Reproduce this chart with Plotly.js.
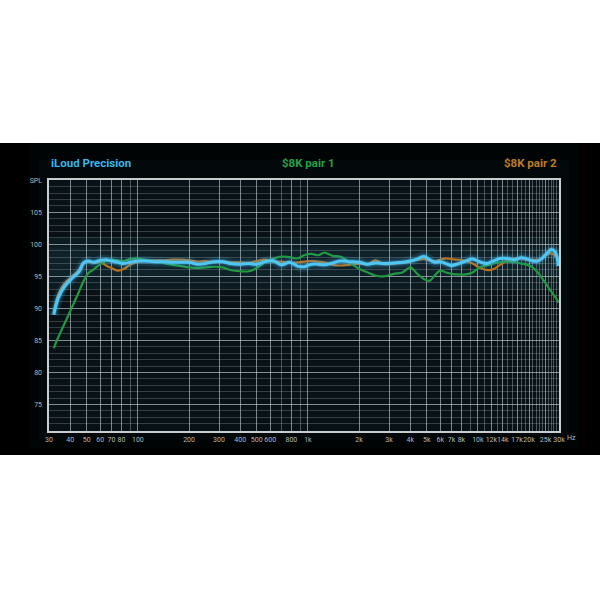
<!DOCTYPE html>
<html>
<head>
<meta charset="utf-8">
<script src="https://cdn.plot.ly/plotly-3.0.1.min.js"></script>
<style>
html,body{margin:0;padding:0;background:#ffffff;width:600px;height:600px;overflow:hidden;}
#chart{position:absolute;left:0;top:143px;width:600px;height:312px;}
</style>
</head>
<body>
<div id="chart"></div>
<script>
// ---- data ----
const freqs = [32,34,37,41,45,48,51,55,60,65,70,76,82,90,100,110,125,140,160,180,200,225,250,280,315,350,400,450,500,560,630,700,780,870,950,1050,1150,1250,1400,1550,1750,2000,2250,2500,2800,3200,3600,4000,4400,4800,5200,5600,6000,6500,7000,7700,8500,9300,10200,11200,12300,13500,15000,16500,18000,19500,21000,22500,24000,25500,27000,28500,29800];

const iloud = [89.0,91.6,93.4,94.7,95.7,97.1,97.4,97.2,97.5,97.6,97.4,97.2,97.0,97.2,97.4,97.4,97.3,97.3,97.2,97.2,97.2,96.9,97.0,97.3,97.3,97.0,96.9,97.0,96.9,97.3,97.4,96.8,97.2,96.6,96.5,96.9,96.9,96.8,97.1,97.4,97.3,97.2,96.9,97.1,97.0,97.1,97.2,97.4,97.7,98.1,97.6,97.2,97.3,97.0,96.7,97.0,97.4,97.7,97.3,97.0,97.4,97.8,97.8,97.6,97.9,97.7,97.4,97.4,97.9,98.6,99.2,98.8,96.6];

const pair1 = [83.8,85.5,87.6,90.2,92.6,94.3,95.5,96.1,96.9,97.4,97.6,97.5,97.4,97.7,97.8,97.6,97.3,97.1,96.8,96.6,96.4,96.3,96.4,96.5,96.4,96.0,95.8,95.8,96.3,97.2,97.8,98.1,98.0,97.8,98.3,98.5,98.3,98.7,98.2,98.1,97.2,96.2,95.6,95.1,95.0,95.4,95.6,96.4,95.4,94.6,94.3,95.2,95.9,95.6,95.4,95.3,95.3,95.6,96.4,96.7,97.0,97.2,97.3,97.2,97.0,96.8,96.4,95.6,94.6,93.6,92.6,91.8,90.9];

const pair2 = [89.3,92.2,93.9,95.0,96.0,97.2,97.3,97.1,97.2,96.7,96.3,95.9,96.1,96.8,97.3,97.4,97.5,97.5,97.6,97.6,97.5,97.3,97.4,97.2,97.3,97.2,97.2,97.1,97.4,97.6,97.3,97.3,97.1,97.2,97.3,97.4,97.3,97.2,96.8,96.7,96.8,97.0,96.9,97.5,96.9,97.0,97.1,97.3,97.6,97.7,97.5,97.4,97.6,97.8,97.7,97.6,97.4,97.0,96.4,96.0,96.1,96.8,97.5,97.8,97.8,97.6,97.6,97.6,97.8,98.4,98.6,98.2,97.9];

const seriesNames = ["iLoud Precision", "$8K pair 1", "$8K pair 2"];

const xTickVals = [30,40,50,60,70,80,100,200,300,400,500,600,800,1000,2000,3000,4000,5000,6000,7000,8000,10000,12000,14000,17000,20000,25000,30000];
const xTickText = ["30","40","50","60","70","80","100","200","300","400","500","600","800","1k","2k","3k","4k","5k","6k","7k","8k","10k","12k","14k","17k","20k","25k","30k"];
const yTickVals = [75,80,85,90,95,100,105,110];
const yTickText = ["75","80","85","90","95","100","105","SPL"];

// ---- grid helpers (axis structure) ----
const xMinor = [];
[[30,100,10],[100,1000,100],[1000,10000,1000],[10000,30000,1000]].forEach(([a,b,s])=>{
  for(let v=a; v<=b; v+=s){ if(xMinor.indexOf(v)<0) xMinor.push(v); }
});
const yMinor = [];
for(let v=71; v<=110; v++) yMinor.push(v);

const BLUE = '#4fc6f3', GREEN = '#1f9a42', ORANGE = '#b8721f';

const traces = [
  {x: freqs, y: pair2, mode:'lines', line:{color:ORANGE, width:2.2, shape:'spline', smoothing:1}, name:seriesNames[2], hoverinfo:'skip'},
  {x: freqs, y: pair1, mode:'lines', line:{color:GREEN, width:2.2, shape:'spline', smoothing:1}, name:seriesNames[1], hoverinfo:'skip'},
  {x: freqs, y: iloud, mode:'lines', line:{color:'rgba(70,190,245,0.13)', width:10, shape:'spline', smoothing:1}, hoverinfo:'skip'},
  {x: freqs, y: iloud, mode:'lines', line:{color:'rgba(70,190,245,0.30)', width:5.5, shape:'spline', smoothing:1}, hoverinfo:'skip'},
  {x: freqs, y: iloud, mode:'lines', line:{color:BLUE, width:3, shape:'spline', smoothing:1}, name:seriesNames[0], hoverinfo:'skip'}
];

const tickFont = {family:'"Liberation Sans Narrow", Roboto, "DejaVu Sans", sans-serif', size:7, color:'#b4b8ba'};
const titleFont = (c)=>({family:'Roboto, "Open Sans", sans-serif', size:11.5, color:c, weight:700});

const layout = {
  width:600, height:312,
  margin:{l:49, r:41, t:37, b:24, pad:0},
  paper_bgcolor:'#000000',
  plot_bgcolor:'#06090c',
  showlegend:false,
  xaxis:{
    type:'log', range:[Math.log10(30), Math.log10(30000)],
    tickmode:'array', tickvals:xTickVals, ticktext:xTickText,
    tickfont:tickFont, ticks:'', ticklabelstandoff:1, tickangle:0,
    showgrid:true, gridcolor:'rgba(205,215,220,0.38)', gridwidth:1,
    minor:{tickmode:'array', tickvals:xMinor, showgrid:true, gridcolor:'rgba(205,215,220,0.34)', gridwidth:1, ticks:''},
    showline:true, linecolor:'#c9cdcf', linewidth:1.6, mirror:true,
    zeroline:false, fixedrange:true
  },
  yaxis:{
    range:[70.85, 110.05],
    tickmode:'array', tickvals:yTickVals, ticktext:yTickText,
    tickfont:tickFont, ticks:'', ticklabelstandoff:4,
    showgrid:true, gridcolor:'rgba(210,218,222,0.50)', gridwidth:1.2,
    minor:{tickmode:'array', tickvals:yMinor, showgrid:true, gridcolor:'rgba(190,200,205,0.25)', gridwidth:1, ticks:''},
    showline:true, linecolor:'#c9cdcf', linewidth:1.6, mirror:true,
    zeroline:false, fixedrange:true
  },
  shapes:[
    {type:'rect', xref:'paper', yref:'paper', x0:-0.04, x1:1.04, y0:-0.07, y1:1.16, line:{width:0}, fillcolor:'rgba(25,60,75,0.06)', layer:'below'},
    {type:'rect', xref:'paper', yref:'paper', x0:-0.02, x1:1.02, y0:-0.035, y1:1.08, line:{width:0}, fillcolor:'rgba(35,80,100,0.08)', layer:'below'},
    {type:'rect', xref:'paper', yref:'y', x0:0, x1:1, y0:93, y1:101, line:{width:0}, fillcolor:'rgba(50,120,150,0.09)', layer:'below'},
    {type:'rect', xref:'paper', yref:'y', x0:0, x1:1, y0:95, y1:99.5, line:{width:0}, fillcolor:'rgba(60,140,170,0.07)', layer:'below'}
  ],
  annotations:[
    {text:seriesNames[0], xref:'paper', yref:'paper', x:0, y:1, xanchor:'left', yanchor:'middle', yshift:17, showarrow:false, font:titleFont('#38b6e6')},
    {text:seriesNames[1], xref:'paper', yref:'paper', x:0.508, y:1, xanchor:'center', yanchor:'middle', yshift:17, showarrow:false, font:titleFont('#25a04a')},
    {text:seriesNames[2], xref:'paper', yref:'paper', x:1, y:1, xanchor:'right', yanchor:'middle', yshift:17, showarrow:false, font:titleFont('#bf7a22')},
    {text:'Hz', xref:'paper', yref:'paper', x:1, y:0, xanchor:'left', yanchor:'top', xshift:6, yshift:-1, showarrow:false, font:tickFont}
  ]
};

Plotly.newPlot('chart', traces, layout, {staticPlot:true, displayModeBar:false});
</script>
</body>
</html>
